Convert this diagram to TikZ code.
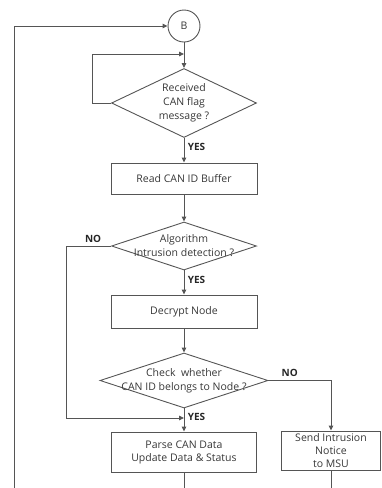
\documentclass[tikz,border=0pt]{standalone}
\usepackage{fontspec}
\setmainfont{Open Sans}
\usetikzlibrary{shapes,arrows.meta,positioning,calc}
\definecolor{flowline}{RGB}{85,85,85}
\definecolor{flowtext}{RGB}{55,55,55}
\tikzset{
  process/.style={draw=flowline, line width=0.9pt, rectangle, minimum width=146pt, minimum height=31pt, inner sep=0pt, align=center, text=flowtext, font=\fontsize{10.5}{13}\selectfont},
  decision/.style={draw=flowline, line width=0.9pt, diamond, inner sep=0pt},
  dtext/.style={align=center, text=flowtext, font=\fontsize{10.5}{14}\selectfont},
  connector/.style={draw=flowline, line width=0.9pt, circle, minimum size=32pt, inner sep=0pt, text=flowtext, font=\fontsize{10.5}{13}\selectfont},
  flow/.style={draw=flowline, line width=0.9pt, -{Triangle[length=5pt,width=4.5pt]}},
  link/.style={draw=flowline, line width=0.9pt},
  answer/.style={text=black!85, font=\bfseries\fontsize{10}{12}\selectfont}
}
\begin{document}
\begin{tikzpicture}[x=1pt,y=-1pt]
    \useasboundingbox (0,0) rectangle (381,488);

    % Receive loop
    \node[connector] (B) at (184,26) {B};
    \node[decision, minimum width=145pt, minimum height=69pt,
          label={[dtext]center:Received\\CAN flag\\message ?}] (recv) at (184,103) {};
    \node[process] (readid) at (184,178.5) {Read CAN ID Buffer};

    % Detection
    \node[decision, minimum width=145pt, minimum height=48pt,
          label={[dtext]center:Algorithm\\Intrusion detection ?}] (algo) at (184,246) {};
    \node[process, minimum height=33pt] (decrypt) at (184,311.5) {Decrypt Node};
    \node[decision, minimum width=168pt, minimum height=55pt,
          label={[dtext]center:Check~~whether\\CAN ID belongs to Node ?}] (check) at (184,380.5) {};

    % Outcomes
    \node[process, minimum width=145pt, minimum height=40pt] (parse) at (184,452) {Parse CAN Data\\Update Data \& Status};
    \node[process, minimum width=99pt, minimum height=39pt] (notice) at (331,450.5) {Send Intrusion\\Notice\\to MSU};

    \coordinate (loopin) at (14,488);
    \coordinate (join1) at (184,54);
    \coordinate (join2) at (184,418);
    \coordinate (out1) at (184,488);
    \coordinate (out2) at (331,488);

    % Connectors
    \draw[flow] (loopin) |- (B);
    \draw[flow] (B) -- (recv);
    \draw[flow] (recv.west) -- ++(-19,0) |- (join1);
    \draw[flow] (recv) -- node[answer, right, pos=0.35] {YES} (readid);
    \draw[flow] (readid) -- (algo);
    \draw[flow] (algo) -- node[answer, right, pos=0.4] {YES} (decrypt);
    \draw[flow] (algo.west) -- node[answer, above, pos=0.4] {NO} ++(-45,0) |- (join2);
    \draw[flow] (decrypt) -- (check);
    \draw[flow] (check) -- node[answer, right, pos=0.37] {YES} (parse);
    \draw[flow] (check.east) -| node[answer, above, pos=0.17] {NO} (notice);
    \draw[link] (parse) -- (out1);
    \draw[link] (notice) -- (out2);
\end{tikzpicture}
\end{document}
